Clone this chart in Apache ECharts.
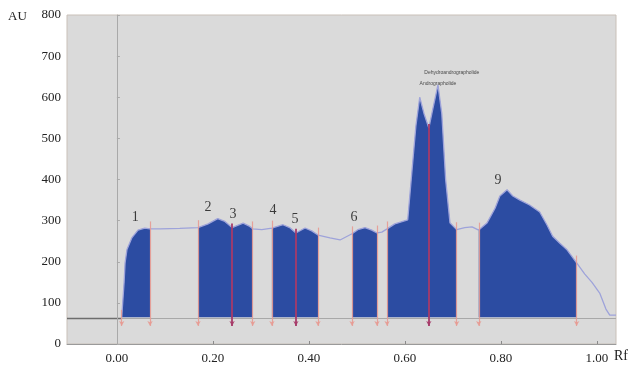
<!DOCTYPE html>
<html>
<head>
<meta charset="utf-8">
<script src="https://cdn.jsdelivr.net/npm/echarts@6/dist/echarts.min.js"></script>
<style>html,body{margin:0;padding:0;background:#fff;}#c{width:634px;height:381px;}</style>
</head>
<body>
<div id="c"></div>
<script>
// Densitogram trace (Rf, AU)
const rf = [0.010,0.015,0.017,0.021,0.031,0.044,0.058,0.069,0.090,0.131,0.169,0.190,0.210,0.225,0.240,0.263,0.277,0.283,0.302,0.323,0.346,0.360,0.373,0.392,0.406,0.419,0.444,0.465,0.490,0.502,0.517,0.531,0.542,0.552,0.563,0.579,0.606,0.615,0.623,0.631,0.640,0.650,0.658,0.669,0.677,0.685,0.694,0.708,0.725,0.740,0.754,0.771,0.788,0.798,0.813,0.825,0.840,0.860,0.881,0.896,0.908,0.923,0.938,0.958,0.975,0.990,1.006,1.019,1.027,1.040];
const au = [65,150,197,230,258,277,282,280,280,281,283,292,305,298,283,294,286,280,278,282,290,283,270,282,275,265,258,253,268,278,283,277,270,272,280,292,302,423,530,600,560,525,570,630,560,400,295,278,283,285,277,294,330,360,375,360,350,338,321,290,262,245,229,197,170,150,124,85,70,70];
// integration windows (Rf start, Rf end)
const regionStart = [0.010,0.169,0.323,0.490,0.563,0.754];
const regionEnd   = [0.069,0.283,0.419,0.542,0.708,0.958];
// peak split positions inside windows
const dividers = [0.240,0.373,0.650];
const baselineAU = 65;
// peak number labels
const peakNames = ['1','2','3','4','5','6','9'];
const peakRf = [0.038,0.190,0.242,0.325,0.371,0.494,0.794];
const peakAU = [307,333,316,324,302,307,399];
// small compound labels over peaks 7 and 8
const noteNames = ['Andrographolide','Dehydroandrographolide'];
const noteRf = [0.669,0.698];
const noteAU = [633,659];
// axis ticks
const xTicks = [0,0.2,0.4,0.6,0.8,1.0];

function interp(x){
  for(let i=0;i<rf.length-1;i++){
    if(x>=rf[i] && x<=rf[i+1]){
      const t=(x-rf[i])/(rf[i+1]-rf[i]);
      return au[i]+t*(au[i+1]-au[i]);
    }
  }
  return baselineAU;
}
const curve = rf.map((x,i)=>[x,au[i]]);
const serif = 'Liberation Serif';
const series = [];
regionStart.forEach((s,k)=>{
  const e = regionEnd[k];
  series.push({
    type:'line', data: curve.filter(p=>p[0]>=s-1e-9 && p[0]<=e+1e-9),
    symbol:'none', lineStyle:{width:0},
    areaStyle:{color:'#2c4ca2', opacity:1, origin: baselineAU},
    silent:true, z:2
  });
});
const boundaryLines = [];
regionStart.concat(regionEnd).forEach(x=>{
  boundaryLines.push([{coord:[x, interp(x)+18]},{coord:[x,44]}]);
});
const dividerLines = dividers.map(x=>[{coord:[x, interp(x)+10]},{coord:[x,44]}]);
series.push({
  type:'line', data: curve, symbol:'none', z:4,
  lineStyle:{color:'#9ea3da', width:1.3},
  markLine:{
    silent:true, symbol:['none','none'], animation:false,
    label:{show:false},
    lineStyle:{type:'solid'},
    data:[
      [{coord:[-0.104,63],lineStyle:{color:'#6d6d6d',width:1.4,type:'solid'}},{coord:[0.010,63]}],
      [{coord:[0.010,63],lineStyle:{color:'#a8a8a8',width:1,type:'solid'}},{coord:[1.040,63]}],
      [{coord:[0,0],lineStyle:{color:'#a9a9a9',width:1,type:'solid'}},{coord:[0,800]}]
    ]
  }
});
series.push({
  type:'line', data:[], z:5,
  markLine:{
    silent:true, symbol:['none','arrow'], symbolSize:[4,5], animation:false,
    label:{show:false},
    lineStyle:{color:'#e79a92', width:1.2, type:'solid', opacity:0.9},
    data: boundaryLines
  }
});
series.push({
  type:'line', data:[], z:5,
  markLine:{
    silent:true, symbol:['none','arrow'], symbolSize:[4,5], animation:false,
    label:{show:false},
    lineStyle:{color:'#a63a68', width:2, type:'solid', opacity:0.9},
    data: dividerLines
  }
});
series.push({
  type:'scatter', symbolSize:0, z:6, silent:true,
  data: peakNames.map((n,i)=>({value:[peakRf[i],peakAU[i]], name:n})),
  label:{show:true, position:'inside', formatter:p=>p.name, fontFamily:serif, fontSize:14, color:'#111'}
});
series.push({
  type:'scatter', symbolSize:0, z:6, silent:true,
  data: noteNames.map((n,i)=>({value:[noteRf[i],noteAU[i]], name:n})),
  label:{show:true, position:'inside', formatter:p=>p.name, fontFamily:'Liberation Sans', fontSize:5, color:'#222'}
});

const chart = echarts.init(document.getElementById('c'));
chart.setOption({
  animation:false,
  backgroundColor:'#ffffff',
  grid:{left:67,right:18,top:15,bottom:37,show:true,backgroundColor:'#dadada',borderColor:'#c9c0b8',borderWidth:1},
  xAxis:{
    type:'value', min:-0.104, max:1.040,
    splitLine:{show:false},
    axisLine:{show:true,lineStyle:{color:'#9a9a9a'}},
    axisTick:{show:true,customValues:xTicks,length:3,inside:true,lineStyle:{color:'#8a8a8a'}},
    axisLabel:{customValues:xTicks, formatter:v=>v.toFixed(2), fontFamily:serif, fontSize:13, color:'#222', margin:8}
  },
  yAxis:{
    type:'value', min:0, max:800, interval:100,
    splitLine:{show:false},
    axisLine:{show:true,lineStyle:{color:'#b9b0a8'}},
    axisTick:{show:true,inside:true,length:3,lineStyle:{color:'#aaa'}},
    axisLabel:{fontFamily:serif, fontSize:13, color:'#222', margin:6}
  },
  graphic:[
    {type:'text', left:8, top:10, style:{text:'AU', font:'13px "Liberation Serif"', fill:'#222'}},
    {type:'text', left:614, top:349, style:{text:'Rf', font:'14px "Liberation Serif"', fill:'#222'}}
  ],
  series: series
});
</script>
</body>
</html>
